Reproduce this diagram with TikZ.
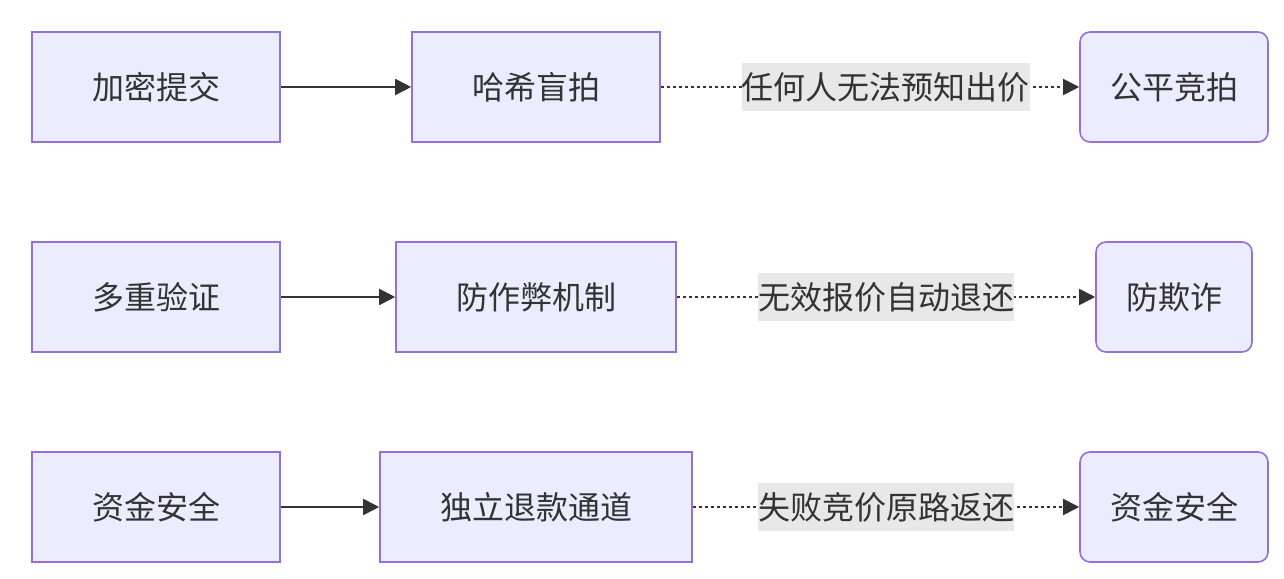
\documentclass[tikz,border=0pt]{standalone}
\usepackage{fontspec}
\setmainfont{Noto Sans CJK SC}
\usetikzlibrary{arrows.meta}
\definecolor{boxfill}{HTML}{ECECFF}
\definecolor{boxline}{HTML}{9370DB}
\definecolor{ink}{HTML}{333333}
\definecolor{lblbg}{HTML}{E8E8E8}
\tikzset{
	box/.style={draw=boxline,line width=1.6pt,fill=boxfill,minimum height=110pt,inner sep=0pt,text=ink,font=\fontsize{32}{38}\selectfont},
	goal/.style={box,rounded corners=10pt},
	lbl/.style={fill=lblbg,minimum height=48pt,inner xsep=0pt,inner ysep=0pt,text=ink,font=\fontsize{32}{38}\selectfont},
	solid arr/.style={draw=ink,line width=1.8pt,-{Triangle[length=16pt,width=16pt]}},
	dot arr/.style={draw=ink,line width=1.8pt,dash pattern=on 3pt off 3pt,-{Triangle[length=16pt,width=16pt]}}
}
\begin{document}
\begin{tikzpicture}[x=1pt,y=1pt]
	\useasboundingbox (0,0) rectangle (1284,578);
	
	% Hàng 1
	\node[box,minimum width=248pt] (enc) at (156,491) {加密提交};
	\node[box,minimum width=248pt] (hash) at (536,491) {哈希盲拍};
	\node[goal,minimum width=188pt] (fair) at (1174,491) {公平竞拍};
	
	% Hàng 2
	\node[box,minimum width=248pt] (verify) at (156,281) {多重验证};
	\node[box,minimum width=280pt] (anti) at (536,281) {防作弊机制};
	\node[goal,minimum width=156pt] (fraud) at (1174,281) {防欺诈};
	
	% Hàng 3
	\node[box,minimum width=248pt] (fund) at (156,71) {资金安全};
	\node[box,minimum width=312pt] (refund) at (536,71) {独立退款通道};
	\node[goal,minimum width=188pt] (safe) at (1174,71) {资金安全};
	
	% Mũi tên
	\draw[solid arr] (enc) -- (hash);
	\draw[dot arr] (hash) -- node[lbl,pos=0.538] {任何人无法预知出价} (fair);
	
	\draw[solid arr] (verify) -- (anti);
	\draw[dot arr] (anti) -- node[lbl] {无效报价自动退还} (fraud);
	
	\draw[solid arr] (fund) -- (refund);
	\draw[dot arr] (refund) -- node[lbl] {失败竞价原路返还} (safe);
\end{tikzpicture}
\end{document}
